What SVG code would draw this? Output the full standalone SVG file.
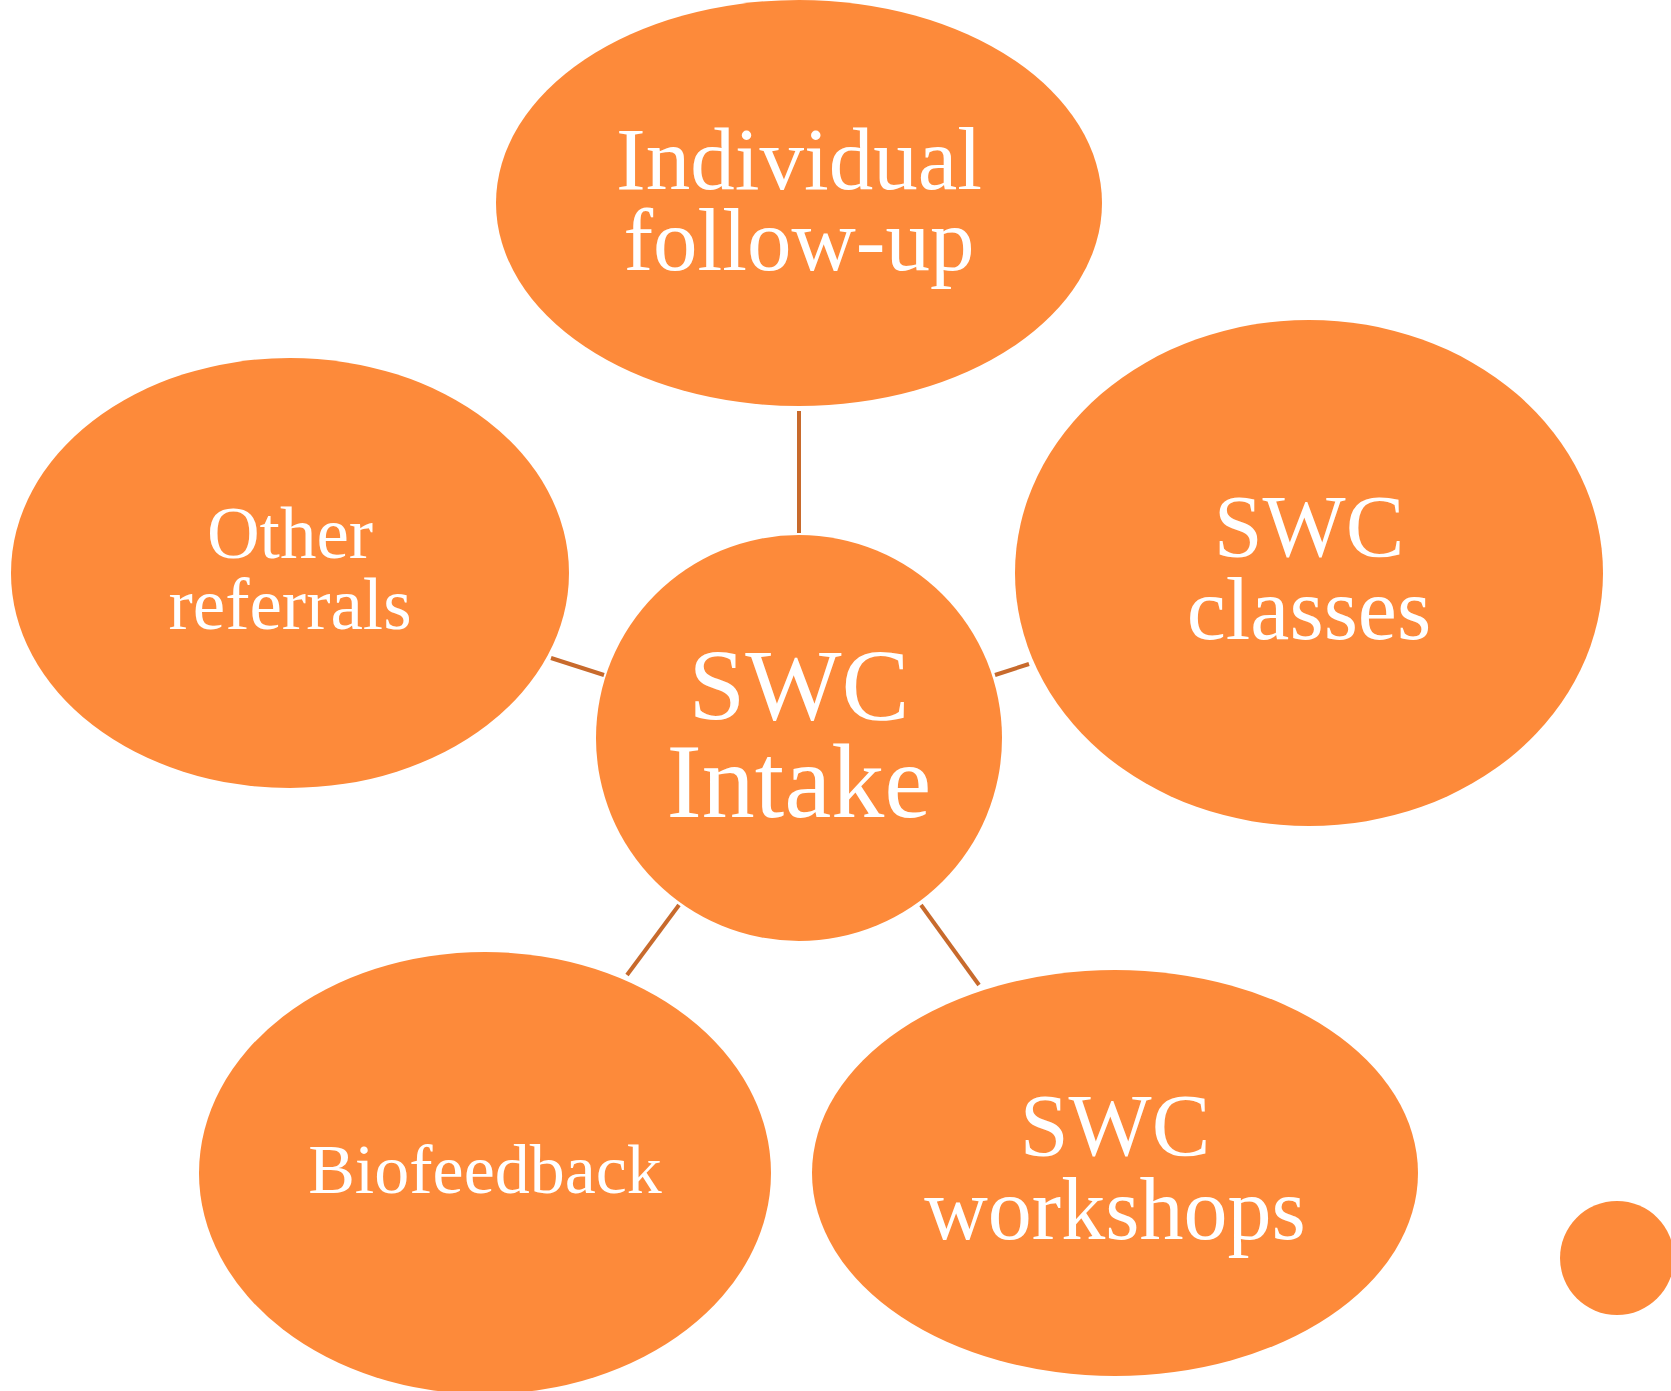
<svg xmlns="http://www.w3.org/2000/svg" width="1671" height="1391" viewBox="0 0 1671 1391">
  <style>
    .node { fill: #FD8A3A; }
    .lbl { fill: #FFFFFF; font-family: "Liberation Serif", "DejaVu Serif", serif; text-anchor: middle; }
    .link { stroke: #C86A2C; stroke-width: 4; fill: none; }
  </style>
  <rect width="1671" height="1391" fill="#FFFFFF"/>

  <g id="connectors">
    <line class="link" x1="799" y1="411" x2="799" y2="533"/>
    <line class="link" x1="551" y1="658" x2="604" y2="675"/>
    <line class="link" x1="995" y1="675" x2="1029" y2="664"/>
    <line class="link" x1="679" y1="905" x2="627" y2="975"/>
    <line class="link" x1="921" y1="905" x2="979" y2="985"/>
  </g>

  <g id="individual-follow-up">
    <ellipse class="node" cx="799" cy="203" rx="303" ry="203"/>
    <text class="lbl" x="799" y="189" font-size="89">Individual</text>
    <text class="lbl" x="799" y="270" font-size="89">follow-up</text>
  </g>

  <g id="other-referrals">
    <ellipse class="node" cx="290" cy="573" rx="279" ry="215"/>
    <text class="lbl" x="290" y="558" font-size="73">Other</text>
    <text class="lbl" x="290" y="629" font-size="73">referrals</text>
  </g>

  <g id="swc-classes">
    <ellipse class="node" cx="1309" cy="573" rx="294" ry="253"/>
    <text class="lbl" x="1309" y="556" font-size="88">SWC</text>
    <text class="lbl" x="1309" y="639" font-size="88">classes</text>
  </g>

  <g id="swc-intake">
    <circle class="node" cx="799" cy="738" r="203"/>
    <text class="lbl" x="799" y="720" font-size="102">SWC</text>
    <text class="lbl" x="799" y="817" font-size="106">Intake</text>
  </g>

  <g id="biofeedback">
    <ellipse class="node" cx="485" cy="1173" rx="286" ry="221"/>
    <text class="lbl" x="485" y="1193" font-size="70">Biofeedback</text>
  </g>

  <g id="swc-workshops">
    <ellipse class="node" cx="1115" cy="1173" rx="303" ry="203"/>
    <text class="lbl" x="1115" y="1155" font-size="88">SWC</text>
    <text class="lbl" x="1115" y="1239" font-size="88">workshops</text>
  </g>

  <g id="dot">
    <circle class="node" cx="1617" cy="1258" r="57"/>
  </g>
</svg>
